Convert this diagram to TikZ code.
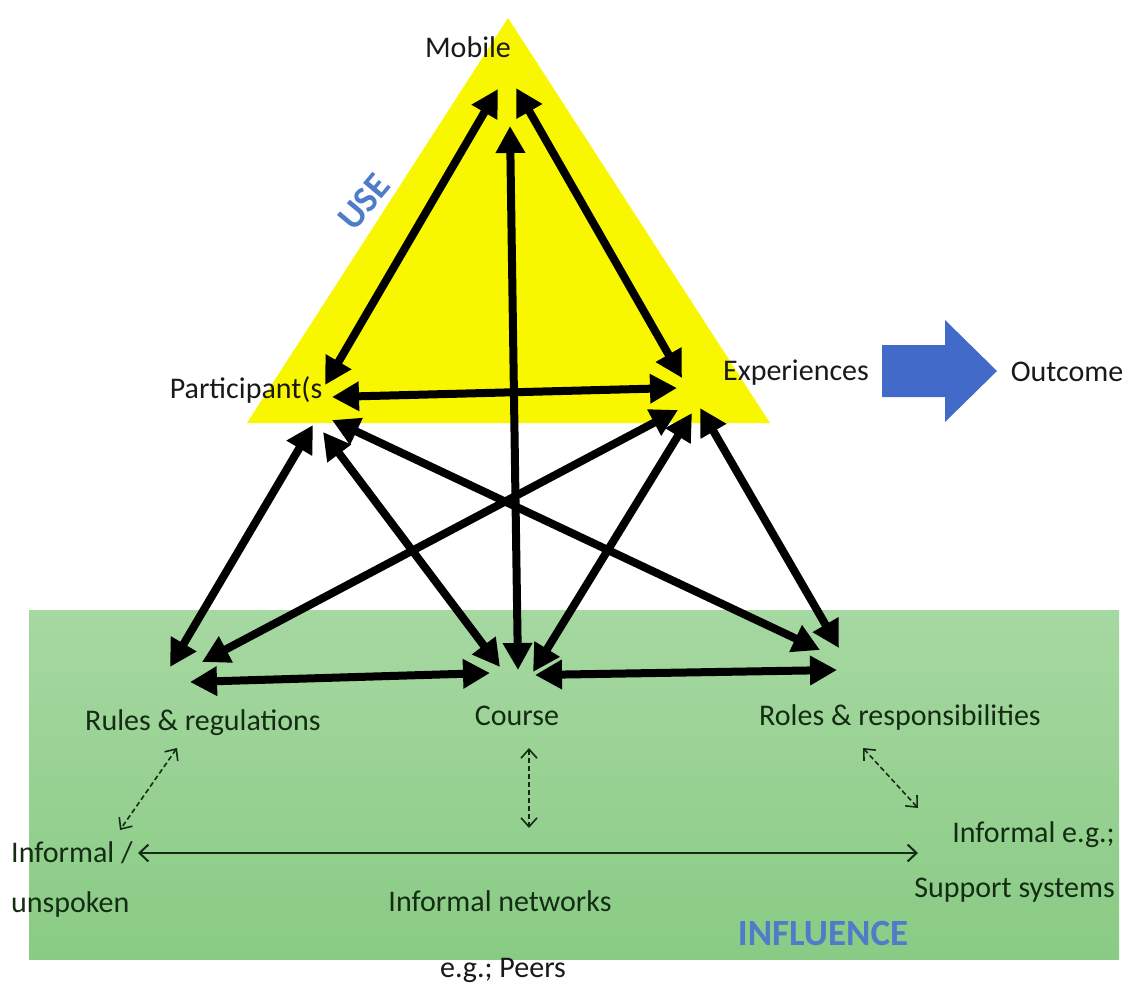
\documentclass[tikz,border=0pt]{standalone}
\usepackage{fontspec}
\setmainfont{Carlito}
\usetikzlibrary{arrows.meta}

\definecolor{usefill}{RGB}{248,247,0}
\definecolor{inftop}{RGB}{166,216,161}
\definecolor{infbot}{RGB}{137,203,132}
\definecolor{outblue}{RGB}{66,106,200}
\definecolor{capblue}{RGB}{78,124,200}
\definecolor{ink}{RGB}{25,25,25}
\definecolor{greenink}{RGB}{20,44,20}

\begin{document}
\begin{tikzpicture}[x=1pt,y=-1pt,
  lbl/.style={font=\fontsize{30}{36}\selectfont, inner sep=0pt, text=ink},
  glbl/.style={lbl, text=greenink},
  capword/.style={font=\fontsize{37}{44}\selectfont\bfseries, inner sep=0pt, text=capblue},
  bigarrow/.style={draw=black, line width=8pt,
    {Triangle[length=27pt,width=28pt]}-{Triangle[length=27pt,width=28pt]}},
  netarrow/.style={draw=greenink, line width=2pt,
    {Straight Barb[length=9pt,width=17pt,line width=2pt]}-{Straight Barb[length=9pt,width=17pt,line width=2pt]}},
  dasharrow/.style={draw=greenink, line width=1.6pt, dash pattern=on 5pt off 3pt,
    {Straight Barb[length=9pt,width=16pt,line width=1.6pt]}-{Straight Barb[length=9pt,width=16pt,line width=1.6pt]}},
]
\useasboundingbox (0,0) rectangle (1138,987);

% influence band and use triangle
\shade[top color=inftop, bottom color=infbot] (29,610) rectangle (1119,959);
\fill[usefill] (508,18) -- (247,423) -- (770,423) -- cycle;

% block arrow towards the outcome
\fill[outblue] (882,345) -- (945,345) -- (945,320) -- (997,371) -- (945,422)
  -- (945,397) -- (882,397) -- cycle;

% labels
\node[lbl, anchor=base] (mobile) at (468,58) {Mobile};
\node[lbl, anchor=base] (part) at (246,398) {Participant(s};
\node[lbl, anchor=base] (exp) at (796,380) {Experiences};
\node[lbl, anchor=base] (outc) at (1067,381) {Outcome};
\node[glbl, anchor=base] (rules) at (203,730) {Rules \& regulations};
\node[glbl, anchor=base] (course) at (517,725) {Course};
\node[glbl, anchor=base] (roles) at (900,725) {Roles \& responsibilities};
\node[glbl, anchor=base west] (infu) at (11,862) {Informal /};
\node[glbl, anchor=base west] (unsp) at (11,912) {unspoken};
\node[glbl, anchor=base] (infn) at (500,911) {Informal networks};
\node[lbl, anchor=base] (peers) at (503,977) {e.g.; Peers};
\node[glbl, anchor=base east] (infs) at (1115,842) {Informal e.g.;};
\node[glbl, anchor=base east] (supp) at (1115,897) {Support systems};
\node[capword, rotate=50] (use) at (364,202) {USE};
\node[capword, anchor=base] (infl) at (823,945) {INFLUENCE};

% arrow end points around each label
\coordinate (m-p) at (498,89);   \coordinate (p-m) at (325,385);
\coordinate (m-e) at (516,88);   \coordinate (e-m) at (682,378);
\coordinate (m-c) at (510,126);  \coordinate (c-m) at (518,670);
\coordinate (p-e) at (332,397);  \coordinate (e-p) at (677,388);
\coordinate (p-r) at (313,425);  \coordinate (r-p) at (170,667);
\coordinate (p-c) at (323,432);  \coordinate (c-p) at (500,667);
\coordinate (p-o) at (332,420);  \coordinate (o-p) at (820,650);
\coordinate (e-r) at (678,410);  \coordinate (r-e) at (202,662);
\coordinate (e-c) at (692,413);  \coordinate (c-e) at (533,672);
\coordinate (e-o) at (700,408);  \coordinate (o-e) at (839,648);
\coordinate (r-c) at (190,682);  \coordinate (c-r) at (490,673);
\coordinate (c-o) at (535,675);  \coordinate (o-c) at (837,670);
\coordinate (r-i) at (177,748);  \coordinate (i-r) at (120,830);
\coordinate (c-n) at (529,748);  \coordinate (n-c) at (529,828);
\coordinate (o-s) at (863,748);  \coordinate (s-o) at (918,808);
\coordinate (n-i) at (138,853);  \coordinate (n-s) at (918,853);

% thick links
\draw[bigarrow] (m-p) -- (p-m);
\draw[bigarrow] (m-e) -- (e-m);
\draw[bigarrow] (c-m) -- (m-c);
\draw[bigarrow] (p-e) -- (e-p);
\draw[bigarrow] (p-r) -- (r-p);
\draw[bigarrow] (p-c) -- (c-p);
\draw[bigarrow] (p-o) -- (o-p);
\draw[bigarrow] (e-r) -- (r-e);
\draw[bigarrow] (e-c) -- (c-e);
\draw[bigarrow] (e-o) -- (o-e);
\draw[bigarrow] (r-c) -- (c-r);
\draw[bigarrow] (c-o) -- (o-c);

% informal influences
\draw[dasharrow] (r-i) -- (i-r);
\draw[dasharrow] (c-n) -- (n-c);
\draw[dasharrow] (o-s) -- (s-o);
\draw[netarrow] (n-i) -- (n-s);
\end{tikzpicture}
\end{document}
